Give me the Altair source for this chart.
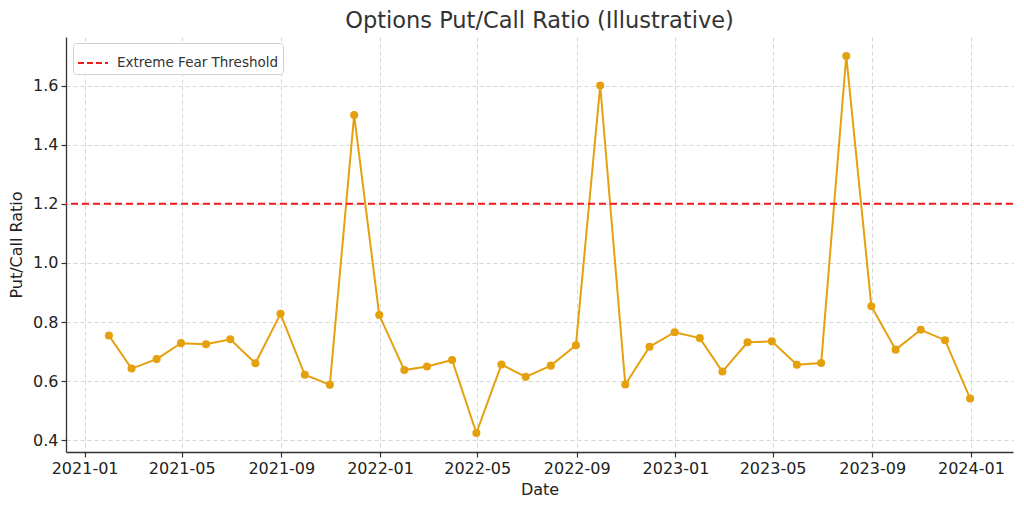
import altair as alt
import pandas as pd

dates = pd.date_range("2021-01-31", "2023-12-31", freq="ME").strftime("%Y-%m-%d").tolist()
ratios = [0.755, 0.643, 0.675, 0.729, 0.725, 0.742, 0.661, 0.828, 0.622, 0.588,
          1.50, 0.824, 0.638, 0.650, 0.672, 0.425, 0.657, 0.615, 0.653, 0.722,
          1.60, 0.589, 0.717, 0.766, 0.746, 0.633, 0.732, 0.735, 0.656, 0.662,
          1.70, 0.854, 0.707, 0.774, 0.739, 0.542]
threshold = 1.2
threshold_label = "Extreme Fear Threshold"
tick_dates = ["2021-01", "2021-05", "2021-09", "2022-01", "2022-05", "2022-09",
              "2023-01", "2023-05", "2023-09", "2024-01"]
y_ticks = [0.4, 0.6, 0.8, 1.0, 1.2, 1.4, 1.6]

df = pd.DataFrame({"Date": dates, "Ratio": ratios})
thr = pd.DataFrame({"y": [threshold], "label": [threshold_label]})

FONT = "DejaVu Sans"
LINE = "#E5A00D"

x_vals = [alt.DateTime(year=int(t[:4]), month=int(t[5:]), date=1, utc=True) for t in tick_dates]

x_enc = alt.X("Date:T",
              scale=alt.Scale(type="utc", domain=[alt.DateTime(year=2020, month=12, date=9, utc=True),
                                                  alt.DateTime(year=2024, month=2, date=22, utc=True)],
                              nice=False),
              axis=alt.Axis(values=x_vals, format="%Y-%m", title="Date"))
y_enc = alt.Y("Ratio:Q", scale=alt.Scale(domain=[0.361, 1.764], nice=False, zero=False),
              axis=alt.Axis(values=y_ticks, format=".1f", title="Put/Call Ratio"))

line = alt.Chart(df).mark_line(color=LINE, strokeWidth=2).encode(x=x_enc, y=y_enc)
pts = alt.Chart(df).mark_point(color=LINE, filled=True, size=65, opacity=1).encode(x="Date:T", y="Ratio:Q")

rule = alt.Chart(thr).mark_rule(strokeDash=[7, 4], strokeWidth=2).encode(
    y="y:Q",
    color=alt.Color("label:N", scale=alt.Scale(range=["#EE1C1C"]),
                    legend=alt.Legend(title=None, orient="none", legendX=7, legendY=6,
                                      symbolType="stroke", symbolDash=[6, 3], symbolStrokeWidth=2,
                                      symbolSize=900, labelFontSize=13.5, labelFont=FONT, labelLimit=0,
                                      labelColor="#333333", fillColor="white",
                                      strokeColor="#d0d0d0", cornerRadius=3, padding=4,
                                      labelOffset=8)))

chart = alt.layer(line, pts, rule).properties(
    width=947, height=415,
    title=alt.TitleParams("Options Put/Call Ratio (Illustrative)", fontSize=22.5, font=FONT,
                          fontWeight="normal", color="#333333", anchor="middle", offset=5),
    autosize=alt.AutoSizeParams(type="none"),
    padding={"left": 58, "top": 29, "right": 3, "bottom": 47},
).configure_view(stroke=None).configure_axis(
    labelFont=FONT, labelFontSize=16, labelColor="#222222",
    titleFont=FONT, titleFontSize=16, titleFontWeight="normal", titleColor="#222222",
    domainColor="#333333", domainWidth=1.3, tickColor="#333333", tickSize=5, tickWidth=1.2,
    gridColor="#cccccc", gridDash=[4, 3], gridWidth=0.8,
).configure_axisX(titlePadding=5, labelPadding=3).configure_axisY(titlePadding=8, labelPadding=3)

chart.save("out.html", embed_options={"renderer": "svg", "actions": False})
